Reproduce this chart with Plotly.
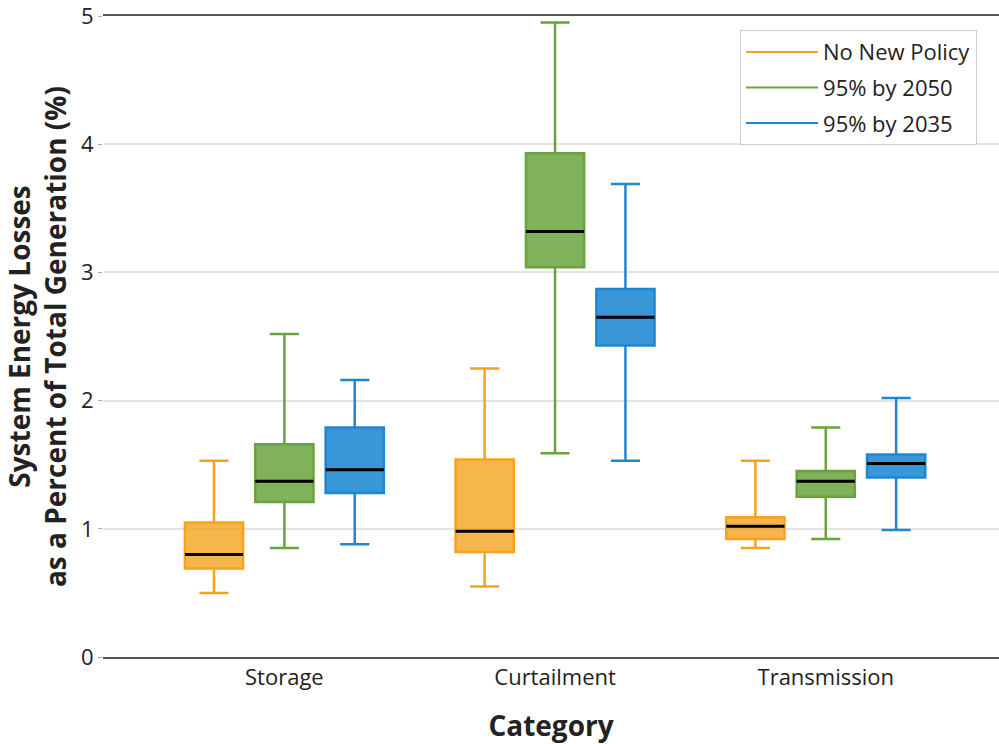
import plotly.graph_objects as go

# ── Data ─────────────────────────────────────────────────────────────────────
categories = ["Storage", "Curtailment", "Transmission"]
scenarios = ["No New Policy", "95% by 2050", "95% by 2035"]

# per scenario: one value per category
lower = {
    "No New Policy": [0.50, 0.55, 0.85],
    "95% by 2050": [0.85, 1.59, 0.92],
    "95% by 2035": [0.88, 1.53, 0.99],
}
q1 = {
    "No New Policy": [0.69, 0.82, 0.92],
    "95% by 2050": [1.21, 3.04, 1.25],
    "95% by 2035": [1.28, 2.43, 1.40],
}
median = {
    "No New Policy": [0.80, 0.98, 1.02],
    "95% by 2050": [1.37, 3.32, 1.37],
    "95% by 2035": [1.46, 2.65, 1.51],
}
q3 = {
    "No New Policy": [1.05, 1.54, 1.09],
    "95% by 2050": [1.66, 3.93, 1.45],
    "95% by 2035": [1.79, 2.87, 1.58],
}
upper = {
    "No New Policy": [1.53, 2.25, 1.53],
    "95% by 2050": [2.52, 4.95, 1.79],
    "95% by 2035": [2.16, 3.69, 2.02],
}

# ── Style ────────────────────────────────────────────────────────────────────
LINE = {"No New Policy": "#F7A21B", "95% by 2050": "#6AA33E", "95% by 2035": "#1E87D2"}
FILL = {
    "No New Policy": "rgba(245,166,35,0.82)",
    "95% by 2050": "rgba(106,163,62,0.85)",
    "95% by 2035": "rgba(30,135,210,0.88)",
}
OFFSET = {"No New Policy": -0.26, "95% by 2050": 0.0, "95% by 2035": 0.26}
BOX_W = 0.215
FONT = "Open Sans, DejaVu Sans, sans-serif"

fig = go.Figure()

for s in scenarios:
    xs = [i + OFFSET[s] for i in range(len(categories))]
    fig.add_trace(go.Box(
        x=xs, q1=q1[s], median=median[s], q3=q3[s],
        lowerfence=lower[s], upperfence=upper[s],
        width=BOX_W, whiskerwidth=0.5,
        line=dict(color=LINE[s], width=2.5),
        fillcolor=FILL[s], boxpoints=False,
        showlegend=False, hoverinfo="skip",
    ))
    # black median line drawn on top
    fig.add_trace(go.Box(
        x=xs, q1=median[s], median=median[s], q3=median[s],
        lowerfence=median[s], upperfence=median[s],
        width=BOX_W, whiskerwidth=0,
        line=dict(color="black", width=3),
        fillcolor="rgba(0,0,0,0)", boxpoints=False,
        showlegend=False, hoverinfo="skip",
    ))
    # legend entry as a line
    fig.add_trace(go.Scatter(
        x=[None], y=[None], mode="lines", name=s, legendgroup=s,
        line=dict(color=LINE[s], width=2),
    ))

fig.update_layout(
    width=999,
    height=744,
    margin=dict(l=103, r=0, t=16, b=87),
    paper_bgcolor="white",
    plot_bgcolor="white",
    font=dict(family=FONT, size=22, color="#222"),
    boxmode="overlay",
    legend=dict(
        x=0.711, y=0.978, xanchor="left", yanchor="top",
        bordercolor="#cccccc", borderwidth=1, bgcolor="white",
        font=dict(size=22), itemwidth=72, tracegroupgap=4,
        traceorder="grouped",
    ),
)

fig.update_xaxes(
    range=[-0.67, 2.64],
    tickmode="array",
    tickvals=list(range(len(categories))),
    ticktext=categories,
    showgrid=False,
    zeroline=False,
    showline=True, mirror=True, linecolor="#555", linewidth=1.5,
    ticks="",
    title=dict(text="<b>Category</b>", font=dict(size=28), standoff=28),
)
fig.update_yaxes(
    range=[0, 5],
    tickvals=[0, 1, 2, 3, 4, 5],
    ticklabeloverflow="allow",
    showgrid=True, gridcolor="#e3e3e3", gridwidth=1.5,
    zeroline=False,
    showline=False,
    ticks="outside", ticklen=4, tickcolor="#aaa",
    title=dict(
        text="<b>System Energy Losses<br>as a Percent of Total Generation (%)</b>",
        font=dict(size=28), standoff=10,
    ),
)

# drop the default body margin so the figure fills the window exactly
fig.write_html(
    "out.html",
    config={"displayModeBar": False},
    post_script="document.body.style.margin = '0';",
)
